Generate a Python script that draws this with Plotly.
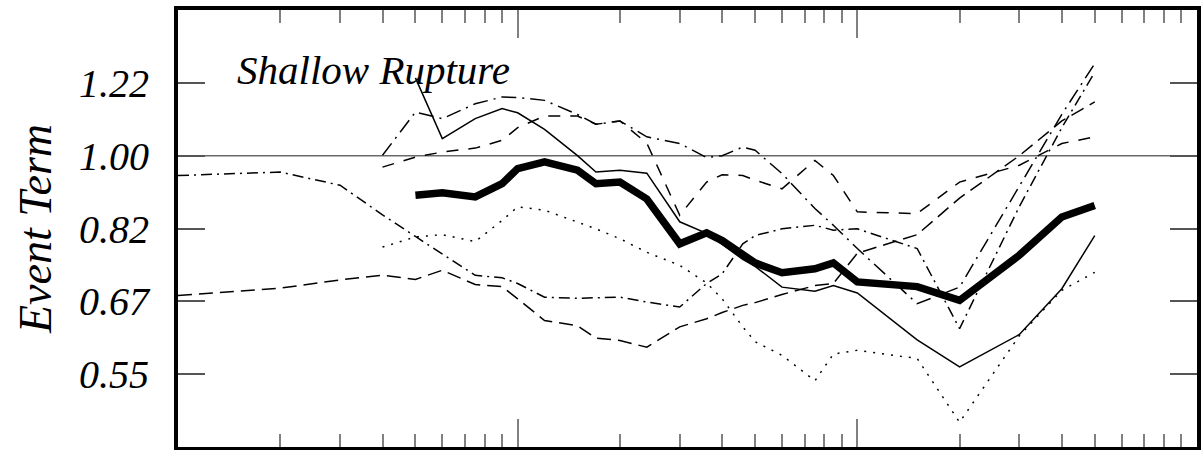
import plotly.graph_objects as go

# Spectral periods (s)
periods = [0.01, 0.02, 0.03, 0.04, 0.05, 0.06, 0.075, 0.09, 0.1, 0.12, 0.15, 0.17,
           0.2, 0.24, 0.3, 0.36, 0.4, 0.46, 0.5, 0.6, 0.75, 0.85, 1.0, 1.5, 2.0,
           3.0, 4.0, 5.0]

# Event terms for individual shallow-rupture events
event_solid = [None] * 4 + [1.238, 1.048, 1.107, 1.138, 1.125, 1.075, 1.0, 0.956, 0.961,
                            0.953, 0.834, 0.808, 0.784, 0.752, 0.738, 0.697, 0.689, 0.700,
                            0.686, 0.603, 0.560, 0.612, 0.694, 0.803]
event_dotted = [None] * 3 + [0.778, 0.800, 0.805, 0.790, 0.837, 0.869, 0.861, 0.833, 0.818,
                             0.796, 0.767, 0.740, 0.705, 0.675, 0.625, 0.600, 0.578, 0.539,
                             0.580, 0.586, 0.573, 0.481, 0.610, 0.691, 0.726]
event_longdash = [0.681, 0.695, 0.711, 0.720, 0.712, 0.730, 0.702, 0.698, 0.675, 0.636,
                  0.627, 0.606, 0.602, 0.591, 0.625, 0.639, 0.650, 0.663, 0.668, 0.683,
                  0.700, 0.704, 0.765, 0.805, 0.890, 1.000, 1.100, 1.159]
event_dashdot = [0.947, 0.956, 0.922, 0.850, 0.801, 0.764, 0.720, 0.715, 0.704, 0.678,
                 0.676, 0.677, 0.678, 0.669, 0.660, 0.704, 0.723, 0.785, 0.803, 0.818,
                 0.826, 0.815, 0.818, 0.775, 0.622, 0.870, 1.080, 1.258]
event_dashed = [None] * 3 + [0.969, 0.996, 1.010, 1.021, 1.043, 1.080, 1.115, 1.115, 1.090,
                             1.100, 1.035, 0.849, 0.930, 0.949, 0.947, 0.935, 0.913, 0.987,
                             0.947, 0.857, 0.853, 0.930, 0.974, 1.034, 1.053]
event_dashdot2 = [None] * 3 + [1.001, 1.127, 1.107, 1.153, 1.175, 1.173, 1.164, 1.120, 1.090,
                               1.100, 1.053, 1.034, 0.995, 1.000, 1.024, 1.015, 0.952, 0.865,
                               0.826, 0.775, 0.666, 0.697, 0.920, 1.120, 1.288]

# Average event term
event_mean = [None] * 4 + [0.897, 0.903, 0.893, 0.926, 0.965, 0.983, 0.961, 0.926, 0.930,
                           0.888, 0.785, 0.809, 0.792, 0.762, 0.745, 0.725, 0.733, 0.745,
                           0.707, 0.698, 0.672, 0.761, 0.845, 0.872]

y_tick_vals = [0.5488, 0.6703, 0.8187, 1.0, 1.2214]
y_tick_text = ["0.55", "0.67", "0.82", "1.00", "1.22"]

x_major = [0.01, 0.1, 1.0, 10.0]
x_minor = [m * d for d in (0.01, 0.1, 1.0) for m in range(2, 10)]

SERIF = "Liberation Serif"

fig = go.Figure()

thin = [
    (event_dotted, "2px,7px"),
    (event_longdash, "14px,7px"),
    (event_dashdot, "11px,5px,2px,5px"),
    (event_dashed, "12px,10px"),
    (event_dashdot2, "15px,6px,2px,6px"),
    (event_solid, "solid"),
]
for vals, dash in thin:
    fig.add_trace(go.Scatter(x=periods, y=vals, mode="lines",
                             line=dict(color="black", width=1.5, dash=dash),
                             connectgaps=False, showlegend=False))

fig.add_trace(go.Scatter(x=periods, y=event_mean, mode="lines",
                         line=dict(color="black", width=7.5),
                         connectgaps=False, showlegend=False))

# Reference line at an event term of 1
fig.add_shape(type="line", xref="paper", yref="y", x0=0, x1=1, y0=1.0, y1=1.0,
              line=dict(color="#6a6a6a", width=1.5), layer="below")

fig.add_annotation(text="Shallow Rupture", xref="paper", yref="paper",
                   x=0.056, y=0.862, xanchor="left", yanchor="middle", showarrow=False,
                   font=dict(family=SERIF, size=41, color="black", style="italic"))

fig.update_xaxes(type="log", range=[-2, 1], showgrid=False, zeroline=False,
                 showline=True, linecolor="black", linewidth=4, mirror="ticks",
                 ticks="inside", ticklen=28, tickwidth=1.5, tickcolor="#808080",
                 tickvals=x_major, showticklabels=False,
                 minor=dict(ticks="inside", ticklen=13, tickwidth=1.5,
                            tickcolor="#808080", tickvals=x_minor, showgrid=False))

fig.update_yaxes(type="log", range=[-0.3474, 0.1737], showgrid=False, zeroline=False,
                 showline=True, linecolor="black", linewidth=4, mirror="ticks",
                 ticks="inside", ticklen=27, tickwidth=1.5, tickcolor="#555555",
                 tickvals=y_tick_vals, ticktext=y_tick_text, ticklabelstandoff=17,
                 tickfont=dict(family=SERIF, size=40, color="black", style="italic"),
                 title=dict(text="Event Term", standoff=14,
                            font=dict(family=SERIF, size=46, color="black", style="italic")))

fig.update_layout(width=1204, height=450, plot_bgcolor="white", paper_bgcolor="white",
                  margin=dict(l=178, r=3, t=10, b=3))

fig.write_html("out.html")
